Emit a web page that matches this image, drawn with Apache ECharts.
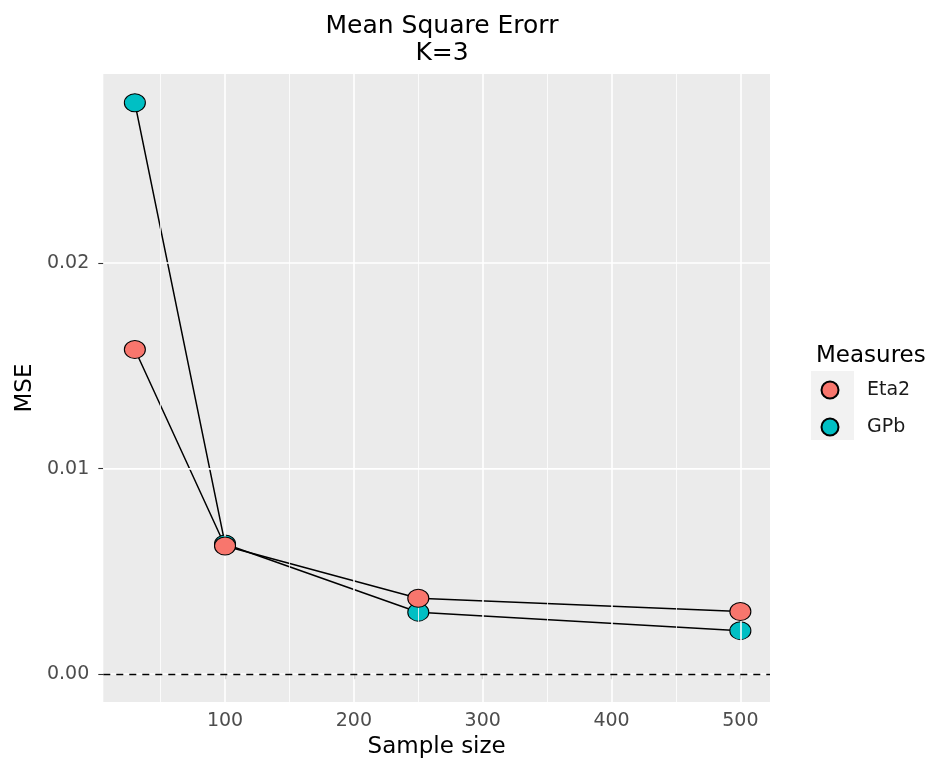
<!DOCTYPE html>
<html>
<head>
<meta charset="utf-8">
<script src="https://cdn.jsdelivr.net/npm/echarts@6/dist/echarts.min.js"></script>
<style>
html,body{margin:0;padding:0;background:#fff;}
#chart{width:936px;height:760px;}
</style>
</head>
<body>
<div id="chart"></div>
<script>
// ---- data ----
const sampleSizes = [30, 100, 250, 500];
const eta2 = [0.0158, 0.00624, 0.00370, 0.00305];
const gpb = [0.0278, 0.00634, 0.00302, 0.00212];
const seriesNames = ['Eta2', 'GPb'];
const xTicks = [100, 200, 300, 400, 500];
const xMinor = [50, 150, 250, 350, 450];
const yTicks = [0, 0.01, 0.02];
const yMinor = [0.005, 0.015, 0.025];
const titleText = 'Mean Square Erorr\nK=3';
const xTitle = 'Sample size';
const yTitle = 'MSE';
const legendTitle = 'Measures';

const FONT = 'DejaVu Sans';
const colors = {Eta2: '#F8766D', GPb: '#00BFC4'};

function pairs(xs, ys) { return xs.map((x, i) => [x, ys[i]]); }

const chart = echarts.init(document.getElementById('chart'), null, {renderer: 'canvas'});

const gridLineSeries = {
  type: 'line', data: [], silent: true, z: 1,
  markLine: {
    silent: true, symbol: ['none', 'none'], label: {show: false}, animation: false,
    data: [
      ...xMinor.map(v => ({xAxis: v, lineStyle: {color: '#fff', width: 0.8, type: 'solid'}})),
      ...yMinor.map(v => ({yAxis: v, lineStyle: {color: '#fff', width: 0.8, type: 'solid'}})),
      ...xTicks.map(v => ({xAxis: v, lineStyle: {color: '#fff', width: 1.6, type: 'solid'}})),
      ...yTicks.map(v => ({yAxis: v, lineStyle: {color: '#fff', width: 1.6, type: 'solid'}}))
    ]
  }
};

const hlineSeries = {
  type: 'line', data: [], silent: true, z: 2,
  markLine: {
    silent: true, symbol: ['none', 'none'], label: {show: false}, animation: false,
    data: [{yAxis: 0, lineStyle: {color: '#000', width: 1.4, type: [7, 6]}}]
  }
};

function lineSeries(vals) {
  return {type: 'line', data: pairs(sampleSizes, vals), showSymbol: false, symbol: 'none',
    lineStyle: {color: '#000', width: 1.5}, z: 3, silent: true, legendHoverLink: false};
}
function pointSeries(name, vals, z) {
  return {type: 'scatter', name: name, data: pairs(sampleSizes, vals),
    symbol: 'circle', symbolSize: [21, 18], z: z,
    itemStyle: {color: colors[name], borderColor: '#000', borderWidth: 1, opacity: 1}};
}

chart.setOption({
  animation: false,
  backgroundColor: '#fff',
  title: [
    {text: titleText, left: 437, top: 8, textAlign: 'center',
     textStyle: {fontFamily: FONT, fontSize: 25, fontWeight: 'normal', color: '#000', lineHeight: 27}},
    {text: legendTitle, left: 811, top: 340,
     textStyle: {fontFamily: FONT, fontSize: 23, fontWeight: 'normal', color: '#000'}}
  ],
  graphic: [
    {type: 'rect', left: 811, top: 371, shape: {width: 43, height: 69}, style: {fill: '#F2F2F2'}, z: -1}
  ],
  legend: {
    data: seriesNames,
    orient: 'vertical', left: 820.5, top: 380.5, padding: 0,
    itemWidth: 22, itemHeight: 17, itemGap: 18, symbolKeepAspect: false,
    icon: 'circle',
    textStyle: {fontFamily: FONT, fontSize: 19, color: '#1a1a1a', padding: [0, 0, 0, 21]},
    selectedMode: false
  },
  grid: {left: 103.3, top: 74, width: 666.7, height: 628, show: true,
         backgroundColor: '#EBEBEB', borderWidth: 0, containLabel: false, outerBoundsMode: 'none'},
  xAxis: {
    type: 'value', min: 5.5, max: 523,
    name: xTitle, nameLocation: 'middle', nameGap: 33,
    nameTextStyle: {fontFamily: FONT, fontSize: 23, color: '#000'},
    axisLine: {show: false},
    splitLine: {show: false},
    axisTick: {show: true, customValues: xTicks, length: 5, lineStyle: {color: '#333', width: 1.1}},
    axisLabel: {customValues: xTicks, margin: 10, fontFamily: FONT, fontSize: 19, color: '#4D4D4D'}
  },
  yAxis: {
    type: 'value', min: -0.00135, max: 0.0292,
    name: yTitle, nameLocation: 'middle', nameGap: 66, nameRotate: 90,
    nameTextStyle: {fontFamily: FONT, fontSize: 23, color: '#000'},
    axisLine: {show: false},
    splitLine: {show: false},
    axisTick: {show: true, customValues: yTicks, length: 5, lineStyle: {color: '#333', width: 1.1}},
    axisLabel: {customValues: yTicks, margin: 14, fontFamily: FONT, fontSize: 19, color: '#4D4D4D',
                formatter: v => v.toFixed(2)}
  },
  series: [
    gridLineSeries,
    hlineSeries,
    lineSeries(eta2),
    lineSeries(gpb),
    pointSeries('GPb', gpb, 4),
    pointSeries('Eta2', eta2, 5)
  ]
});
</script>
</body>
</html>
